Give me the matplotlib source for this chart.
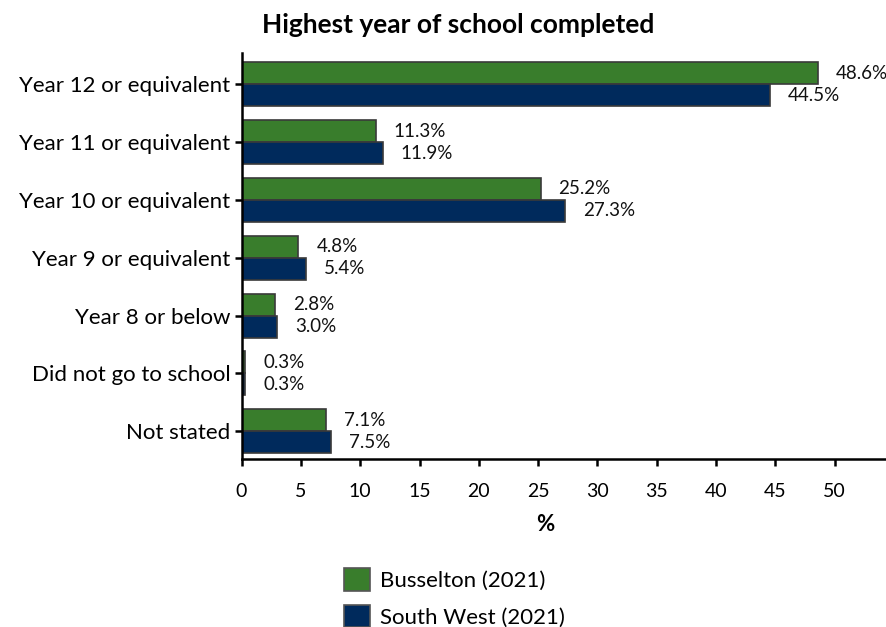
import matplotlib
matplotlib.use("Agg")
import matplotlib.pyplot as plt
from matplotlib.patches import Patch

plt.rcParams['font.family'] = ['Lato', 'DejaVu Sans']

# data
categories = ["Year 12 or equivalent", "Year 11 or equivalent", "Year 10 or equivalent",
              "Year 9 or equivalent", "Year 8 or below", "Did not go to school", "Not stated"]
busselton = [48.6, 11.3, 25.2, 4.8, 2.8, 0.3, 7.1]
south_west = [44.5, 11.9, 27.3, 5.4, 3.0, 0.3, 7.5]
series_names = ["Busselton (2021)", "South West (2021)"]
colors = ["#397d2c", "#002a5c"]
xticks = [0, 5, 10, 15, 20, 25, 30, 35, 40, 45, 50]

fig = plt.figure(figsize=(8.87, 6.27), dpi=100)
ax = fig.add_axes([0.2723, 0.268, 0.7277, 0.6475])

h = 0.38
pos = list(range(len(categories)))
for vals, col, off in [(busselton, colors[0], -h / 2), (south_west, colors[1], h / 2)]:
    ys = [p + off for p in pos]
    ax.barh(ys, vals, height=h, color=col, edgecolor="#3a3a3a", linewidth=1.2)
    for y, v in zip(ys, vals):
        ax.annotate(f"{v:.1f}%", (v, y), xytext=(13, 0), textcoords="offset points",
                    ha="left", va="center", fontsize=13.5, color="#111111")

ax.set_ylim(6.48, -0.54)
ax.set_xlim(0, 54.4)
ax.set_yticks(pos)
ax.set_yticklabels(categories, fontsize=16)
ax.set_xticks(xticks)
ax.set_xticklabels([str(t) for t in xticks], fontsize=14)
for s in ["top", "right"]:
    ax.spines[s].set_visible(False)
for s in ["left", "bottom"]:
    ax.spines[s].set_linewidth(1.8)
ax.tick_params(axis="both", direction="out", length=5, width=1.8, color="black")
ax.tick_params(axis="x", pad=12)
ax.tick_params(axis="y", pad=3)

ax.set_xlabel("%", fontsize=16, fontweight="bold")
ax.xaxis.set_label_coords(25.6 / 54.4, -0.135)

fig.text(458 / 887, 1 - 25 / 627, "Highest year of school completed", ha="center", va="center",
         fontsize=19, fontweight="bold")

handles = [Patch(facecolor=c, edgecolor="#555555", linewidth=1.2) for c in colors]
fig.legend(handles, series_names, loc="center left", bbox_to_anchor=(328 / 887, 1 - 598 / 627),
           frameon=False, fontsize=16, handlelength=1.2, handleheight=1.2,
           handletextpad=0.45, labelspacing=0.6, borderpad=0.2)

fig.savefig("out.png", dpi=100)
